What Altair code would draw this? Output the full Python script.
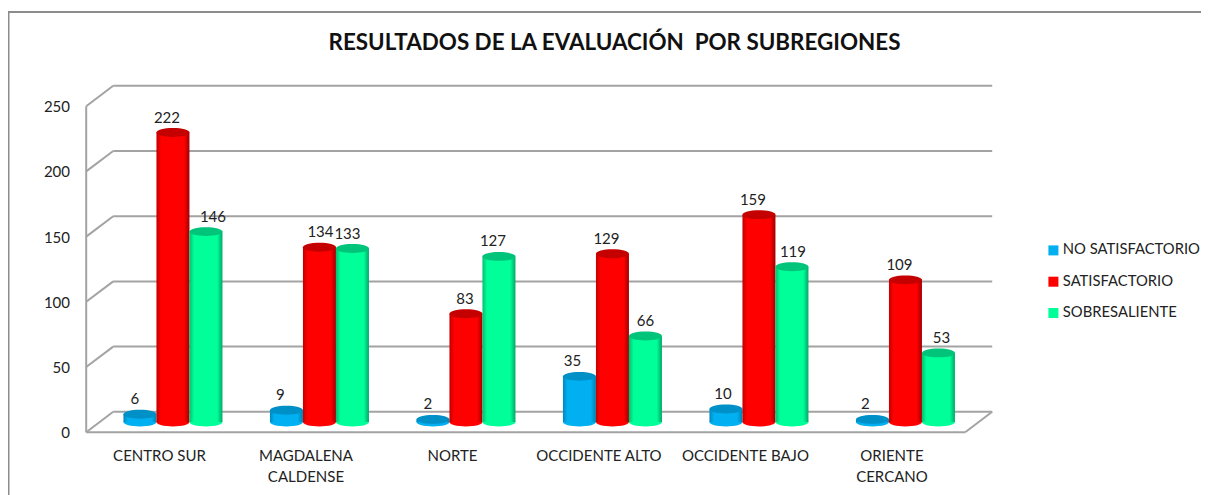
import altair as alt
import pandas as pd

categories = ["CENTRO SUR", "MAGDALENA\nCALDENSE", "NORTE", "OCCIDENTE ALTO", "OCCIDENTE BAJO", "ORIENTE\nCERCANO"]
no_satisfactorio = [6, 9, 2, 35, 10, 2]
satisfactorio = [222, 134, 83, 129, 159, 109]
sobresaliente = [146, 133, 127, 66, 119, 53]
y_ticks = [0, 50, 100, 150, 200, 250]
series_names = ["NO SATISFACTORIO", "SATISFACTORIO", "SOBRESALIENTE"]

FONT = "Lato"
TXT = "#222222"
GRID = "#A3A3A3"
# scale geometry: one x unit = one category, y unit = chart value
PX_X = 146.5
PX_Y = 1.304
O_X = 99.7
O_Y = 422
W, H = 1193, 487
x0 = (8 - O_X) / PX_X
x1 = x0 + W / PX_X
y_top = (O_Y - 8) / PX_Y
y_bot = y_top - H / PX_Y
DX = 13.5 / PX_X      # half of the floor depth
DY = 10.2 / PX_Y
NCAT = len(categories)
BW = 33 / PX_X

xs = alt.Scale(domain=[x0, x1], range=[0, W], nice=False, zero=False)
ys = alt.Scale(domain=[y_bot, y_top], range=[H, 0], nice=False, zero=False)
X = lambda f: alt.X(f, type="quantitative", scale=xs, axis=None)
Y = lambda f: alt.Y(f, type="quantitative", scale=ys, axis=None)


def line(data, **kw):
    return alt.Chart(pd.DataFrame(data)).mark_rule(**kw).encode(
        x=X("a"), x2=alt.X2("b"), y=Y("c"), y2=alt.Y2("d"))


wall = []
for t in y_ticks:
    wall.append(dict(a=DX, b=NCAT + DX, c=t + DY, d=t + DY))            # back wall
    wall.append(dict(a=-DX, b=DX, c=t - DY, d=t + DY))                  # side wall
wall.append(dict(a=-DX, b=-DX, c=-DY, d=250 - DY))                      # left edge
wall.append(dict(a=-DX, b=NCAT - DX, c=-DY, d=-DY))                     # floor front
wall.append(dict(a=NCAT - DX, b=NCAT + DX, c=-DY, d=DY))                # floor right
grid = line(wall, color=GRID, strokeWidth=2)

frame_rows = [dict(a=x0 + 0.5 / PX_X, b=x0 + 0.5 / PX_X, c=y_bot, d=(O_Y - 12) / PX_Y),
              dict(a=x0, b=x1, c=(O_Y - 12) / PX_Y, d=(O_Y - 12) / PX_Y)]
frame = line(frame_rows, color="#8C8C8C", strokeWidth=2)

colors = ["#00B0F0", "#FF0000", "#00FF99"]
caps = ["#0090C8", "#C40000", "#00C47A"]
edges_l = ["#0088BE", "#C00000", "#00C070"]
edges_r = ["#0080B0", "#A00000", "#00A868"]
values = [no_satisfactorio, satisfactorio, sobresaliente]
label_nudge = [[-5, -6, -5, -7, -3, -7], [-6, 1, -1, -6, -6, -6], [7, -5, -6, 0, 1, 3]]

ELLIPSE = "M-1,0A1,0.27,0,1,1,1,0A1,0.27,0,1,1,-1,0Z"
color_enc = alt.Color("serie:N",
                      scale=alt.Scale(domain=series_names, range=colors),
                      legend=alt.Legend(title=None, orient="none", legendX=1053 - 8 - 7, legendY=243 - 8,
                                        symbolType="square", symbolSize=100, symbolStrokeWidth=0,
                                        labelFont=FONT, labelFontSize=14.8, labelColor=TXT,
                                        rowPadding=15.3, labelOffset=2, padding=0))

layers = [grid, frame]
all_labels = []
for k, name in enumerate(series_names):
    off = (k - 1) * BW
    df = pd.DataFrame({
        "serie": name,
        "v": values[k],
        "zero": 0,
        "c": [i + 0.5 + off for i in range(NCAT)],
        "l": [i + 0.5 + off - BW / 2 for i in range(NCAT)],
        "r": [i + 0.5 + off + BW / 2 for i in range(NCAT)],
        "lab": [i + 0.5 + off + label_nudge[k][i] / PX_X for i in range(NCAT)],
    })
    grad = alt.LinearGradient(gradient="linear", x1=0, x2=1, y1=0, y2=0, stops=[
        alt.GradientStop(color=edges_l[k], offset=0),
        alt.GradientStop(color=colors[k], offset=0.14),
        alt.GradientStop(color=colors[k], offset=0.84),
        alt.GradientStop(color=edges_r[k], offset=1),
    ])
    ch = alt.Chart(df)
    layers.append(ch.mark_point(shape=ELLIPSE, size=33 * 33, filled=True, opacity=1, strokeWidth=0).encode(
        x=X("c"), y=Y("zero"), color=color_enc))
    layers.append(ch.mark_rect(color=grad).encode(x=X("l"), x2=alt.X2("r"), y=Y("zero"), y2=alt.Y2("v")))
    layers.append(ch.mark_point(shape=ELLIPSE, size=33 * 33, filled=True, opacity=1, strokeWidth=0,
                                color=caps[k]).encode(x=X("c"), y=Y("v")))
    all_labels.append(df)

labels = alt.Chart(pd.concat(all_labels)).mark_text(
    font=FONT, fontSize=15, color=TXT, baseline="bottom", dy=-7).encode(
    x=X("lab"), y=Y("v"), text=alt.Text("v:Q"))
layers.append(labels)

y_lab = pd.DataFrame({"t": y_ticks,
                      "p": [t - DY for t in y_ticks],
                      "x": (70 - O_X) / PX_X})
layers.append(alt.Chart(y_lab).mark_text(font=FONT, fontSize=15, color=TXT, align="right",
                                         baseline="middle", dy=1).encode(
    x=X("x"), y=Y("p"), text=alt.Text("t:Q")))

x_lab = pd.DataFrame({"t": categories,
                      "x": [i + 0.5 - DX for i in range(NCAT)],
                      "p": (O_Y - 456) / PX_Y})
layers.append(alt.Chart(x_lab).mark_text(font=FONT, fontSize=15, color=TXT, baseline="middle",
                                         lineBreak="\n", lineHeight=21).encode(
    x=X("x"), y=Y("p"), text="t:N"))

chart = alt.layer(*layers).properties(
    width=W, height=H, padding=0,
    autosize=alt.AutoSizeParams(type="none"),
    title=alt.TitleParams("RESULTADOS DE LA EVALUACIÓN\u00a0 POR SUBREGIONES", font=FONT, fontSize=22.4,
                          fontWeight="bold", color="#111111", anchor="middle", frame="group",
                          offset=-46, dx=10),
).resolve_scale(color="shared").configure_view(stroke=None)

chart.save("out.html", embed_options={"renderer": "svg", "actions": False})
